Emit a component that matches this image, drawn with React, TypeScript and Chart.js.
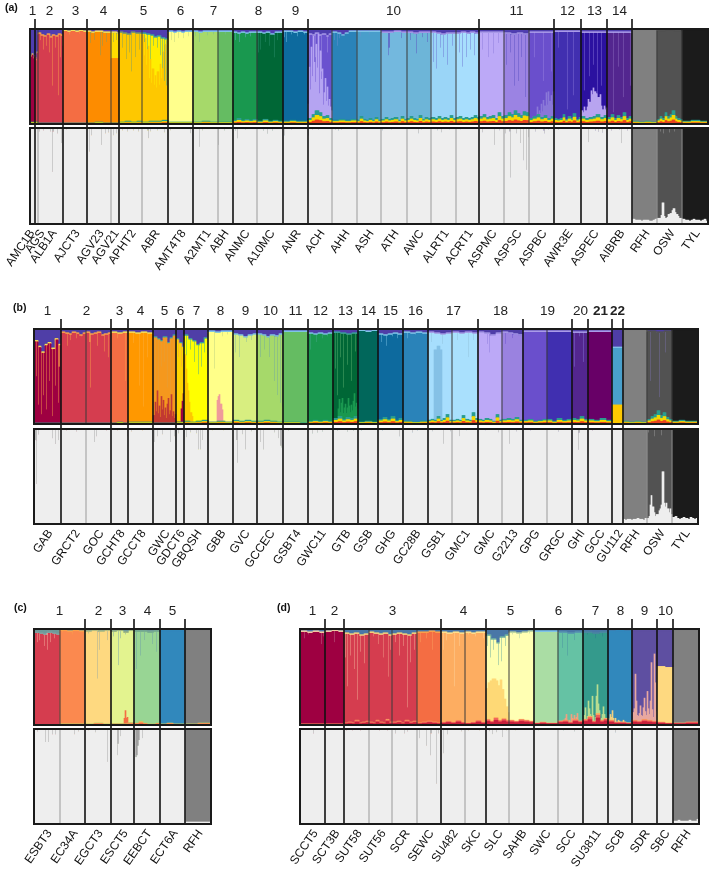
import React, { useEffect, useRef } from "react";
import { Chart, registerables } from "chart.js";
Chart.register(...registerables);

// ---------- shared colours ----------
const RFH = "#808080", OSW = "#525252", TYL = "#1c1c1c";
const WINE = "#9e0142", RED = "#d53e4f", ORG = "#f46d43", AMB = "#fd8d00", GOLD = "#fec800";
const O = "#f9a04a", Y = "#f3df5a", B = "#7fc4e6", T = "#3aa0a0", L = "#a99be8", G = "#7a9a6a", P = "#5a50c0";

// ---------- panel (a) ----------
const namesA = ["AMC1B","AGS","ALB1A","AJCT3","AGV23","AGV21","APHT2","ABR","AMT4T8","A2MT1","ABH","ANMC","A10MC","ANR","ACH","AHH","ASH","ATH","AWC","ALRT1","ACRT1","ASPMC","ASPSC","ASPBC","AWR3E","ASPEC","AIBRB","RFH","OSW","TYL"];
const countsA = [5,3,25,24,24,8,23,26,25,25,15,24,26,25,24,25,24,26,24,25,23,25,25,25,27,26,25,25,25,26];
const groupsA = [1,2,1,2,2,1,2,2,1,7,3,1,1,1];
const labelNudgeA = [-3,3,1,0,0,-1,0,0,0,0,-2,0,0,0,0,0,0,0,0,0,0,0,0,0,0,0,0,0,0,0];
const mainA = [WINE,RED,RED,ORG,AMB,"#ffdc00",GOLD,"#ffee00","#ffff8c","#a6d96a","#66bd63","#1a9850","#006837","#0e6a9e","#6b52cf","#2b83ba","#4a9fcb","#74b8de","#6db5d8","#9ad5f7","#a8defd","#bda9f7","#9c84e3","#6a50cc","#4230b0","#2c12a0","#54278f",RFH,OSW,TYL];
const underColorA = [WINE,"#c8a020",RED,ORG,AMB,AMB,GOLD,GOLD,"#ffff8c","#a6d96a","#66bd63","#1a9850","#006837","#0e6a9e","#b5a4f2","#2b83ba","#4a9fcb","#74b8de","#6db5d8","#9ad5f7","#a8defd","#bda9f7","#9c84e3","#8a78d8","#4230b0","#b8a4f0","#54278f",RFH,OSW,TYL];
const underA = [[0],[0],[0],[0],[0],[68],[0],[92,70,88,60,80,45,70,40,55,38,48,35,52,38,60,45,72,50,80,68,90],[0],[0],[0],[0],[0],[0],[15,60,30,75,40,88,55,30,70,45,82,20,65,35,50,12,25,40,15,30,10,20,12,8],[0],[0],[0],[0],[0],[0],[0],[0],[0,0,0,0,0,0,8,0,4,14,6,18,10,24,14,28,18,22,12,26],[0],[6,4,10,8,12,20,16,28,24,30,26,22,30,18,24,12,8,10,6,8],[0],[0],[0],[0]];
const capA = [[30,28,26,30,28],[30,32,24],[4,6,7,5,8,6,7,5,6],[1,2,1,2,1,2],[2,3,2,2,3,3],[3,3,4],[3,4,5,3,4,4],[4,5,6,8,7,9,10],[2,3,2,3,2,2],[2,3,2,2,2],[2,2,2],[3,4,3,4,3,3],[3,4,3,5,3,3],[2,2,3,2,3],[5,6,4,6,5,7,5],[3,4,6,4,2,2],[2,2,2,2],[3,3,2,3],[3,4,3,3],[3,4,5,4,4],[4,3,4,3,4],[3,3,3],[4,5,4,5],[3,3,3],[2,2],[3,3],[3,3],[0],[1,0,1],[0]];
const floorA = [[2],[2],[1,1,1],[1],[1,2,1],[1],[2,3,2,3],[2,3,3,4],[2,2],[2,3,2],[2,2],[4,6,4,5,4,5],[3,5,3,4,3],[3,4,3,3],[6,10,14,12,8,9,6],[4,5,4,5],[4,8,5,4,6,4,7,4],[5,7,5,6,7,4,8,5],[6,8,6,5,9,5,7,6],[7,6,8,6,7,6,9,6],[7,8,6,7,6,7,9,7],[8,10,7,8,9,6,12,8],[9,12,10,14,11,9,13,12],[6,8,10,7,9,6,8],[6,5,6,10,5,8,6,11,5,7],[8,6,7,8,10,7,9],[7,10,6,9,7,12,6,8],[3,2,3,2],[5,8,6,12,8,10,14,8,6,5],[3,4,3]];
const fringeA = [Y,Y,O,Y,Y,Y,G,T,B,B,B,B,B,B,L,B,B,L,L,L,L,L,L,L,L,L,L,RFH,OSW,TYL];
const streakColorA = [WINE,RED,O,O,G,G,G,T,"#b8d080","#78b89a","#78b89a","#6fa8c8","#2f8f6f",B,L,"#6a8fd0","#6a8fd0",P,P,"#6a70d0","#6a70d0","#8a78d8",P,"#9c84e3","#8a78d8","#8a78d8","#9070c0",RFH,OSW,TYL];
const streaksA = [
  [],[],
  [[2,12],[5,22],[8,18],[11,25],[14,60],[17,20],[20,70],[22,30],[24,18]],
  [[6,6],[16,5]],
  [[3,15],[7,12],[13,28],[15,18],[19,14]],
  [[2,14],[5,12]],
  [[3,20],[7,32],[10,25],[12,45],[16,30],[20,22]],
  [[2,14],[5,22],[8,32],[11,18],[15,20],[18,28],[20,42],[22,55],[24,60]],
  [[3,12],[6,14],[10,10],[15,10],[20,8]],
  [[2,8],[6,14],[14,7],[20,6]],
  [[1,5],[7,6]],
  [[2,12],[6,14],[12,9],[17,8]],
  [[1,25],[3,22],[8,14],[12,18],[17,30],[20,12]],
  [[1,9],[3,14],[8,6],[14,8],[21,6]],
  [[1,40],[7,30],[13,45],[19,25]],
  [[2,12],[5,18],[7,10]],
  [[3,8],[12,6]],
  [[7,28],[8,20],[20,10]],
  [[3,12],[9,26],[15,9],[20,14]],
  [[2,35],[5,42],[9,20],[12,30],[16,38],[21,18]],
  [[3,25],[6,40],[10,30],[14,22],[18,28]],
  [[3,22],[9,30],[14,26],[19,15]],
  [[2,38],[6,25],[10,60],[14,55],[17,30],[21,72]],
  [[5,30],[14,55],[22,45]],
  [[4,20],[13,85],[19,70]],
  [[3,65],[8,50],[12,38],[16,72],[20,60]],
  [[6,88],[11,40],[16,72],[23,60]],
  [],[[2,6]],[]
];
const greysA = [
  [],[],
  [[1,4],[5,3],[12,4],[14,46],[15,4],[19,6],[23,16]],
  [[3,2]],
  [[2,25],[4,8],[14,18],[18,6],[21,5]],
  [[2,8],[5,6]],
  [[3,3],[8,4],[14,3],[19,4]],
  [[5,3],[6,11],[8,4],[15,3],[22,5]],
  [[2,3],[22,6]],
  [[6,20],[9,3]],
  [[0,18],[6,3]],
  [[2,3],[4,11],[12,2]],
  [[6,3],[10,6],[15,3]],
  [[1,8],[8,2]],
  [[0,8],[4,2],[10,2]],
  [[3,2],[6,3],[9,2]],
  [],
  [[1,3],[10,2]],
  [[11,6],[14,2]],
  [[6,3],[10,5],[18,2]],
  [[4,2]],
  [[3,5],[15,18],[20,3]],
  [[1,6],[5,4],[6,52],[12,6],[16,16],[19,34],[22,44],[24,10]],
  [[6,4],[14,3],[15,6],[19,2]],
  [[4,2]],
  [[7,15],[14,3],[17,4],[21,5]],
  [[4,3],[12,2],[14,16],[20,3]],
  [],[[3,4],[6,6],[12,5],[17,4]],[]
];
const lowBaseA = [[100],[100],[100],[100],[100],[100],[100],[100],[100],[100],[100],[100],[100],[100],[100],[100],[100],[100],[100],[100],[100],[100],[100],[100],[100],[100],[100],[5,4,4,4,3,4,4,4,3,3,4,5],[6,6,9,22,8,6,7,10,11,14,16,12,10,8,6,6],[5,4,4,3,4,5,4,4,3,4,5,3]];

// ---------- panel (b) ----------
const namesB = ["GAB","GRCT2","GOC","GCHT8","GCCT8","GWC","GDCT6","GBQSH","GBB","GVC","GCCEC","GSBT4","GWC11","GTB","GSB","GHG","GC28B","GSB1","GMC1","GMC","G2213","GPG","GRGC","GHI","GCC","GU112","RFH","OSW","TYL"];
const countsB = [27,25,25,17,25,23,8,24,25,24,26,25,25,25,20,25,25,24,26,24,21,24,25,16,24,11,24,25,26];
const groupsB = [1,2,1,1,1,1,1,1,1,1,1,1,1,1,1,1,2,2,2,1,1,1];
const labelNudgeB = [0,1,0,0,0,0,0,1,0,0,0,0,0,0,0,0,0,0,0,0,0,0,0,0,0,0,0,0,0];
const mainB = [WINE,RED,RED,ORG,"#ff9800","#f5981e","#ffd500","#ffff00","#ffff8a","#d8ee80","#a6d96a","#66bd63","#1a9850","#006837","#02675c","#0e6a9e","#2b83ba","#a8defd","#a9e0fd","#bda9f7","#9a82e0","#6a50cc","#4030b0","#54278f","#690068","#4aa0cc",RFH,OSW,TYL];
const underColorB = [WINE,RED,RED,ORG,"#ff9800","#c23a32",WINE,GOLD,"#ef9a9a","#d8ee80","#a6d96a","#66bd63","#1a9850","#1a9850","#02675c","#0e6a9e","#2b83ba","#85c1e6","#a9e0fd","#bda9f7","#9a82e0","#6a50cc","#4030b0","#54278f","#690068",GOLD,RFH,OSW,TYL];
const underB = [[0],[0],[0],[0],[0],[8,22,12,34,10,18,6,28,14,24,8,16,5,20,26,9,13,30,7,12,5,9],[0,0,0,0,0,14,22,30],[70,55,40,32,20,10,6,0,0,0,0,0,0,0,0,0,0,0,0,0],[0,0,0,0,0,0,0,0,22,26,28,18,12,0,0,0,0,0,0,0,0,0,0],[0],[0],[0],[0],[0,0,0,0,8,18,4,14,22,6,12,16,4,10,20,12,6,14,8,18,24,10,14,8],[0],[0],[0],[0,0,0,0,74,74,74,74,74,74,0,0,0,0,0,0,0,0],[0],[0],[0],[0],[0],[0],[0],[20],[0],[0],[0]];
const capB = [[12,18,24,16,14,20,10,16],[3,4,5,3,4,6,4],[3,5,4,3,6,5,4],[3,4,3],[3,4,3,4],[8,10,12,8,14,9,6],[10,14,18],[6,10,12,16,14,9],[2,3,2,2],[5,6,8,6,5],[5,6,8,6,7,5],[2,2,2],[4,5,4,5,4],[3,4,5,4],[1,2,1],[5,6,5,4,5],[3,4,3,4],[3,4,5,4],[3,4,3,4],[3,4,6,4],[3,4,5,6],[2,2],[2,2],[3,3],[2,2],[19],[0],[2,3,2],[0]];
const floorB = [[1],[1],[1],[1,2,1],[2],[1],[2],[3,2,3,4],[2,3,2],[4,3,4,3],[3,4,3,2],[2,2,1],[3,4,3,4,3],[6,8,5,7,6,8],[2,3,2],[5,7,5,8,4,6],[3,2,3],[4,5,4,8,4,6,10,4],[4,5,4,9,5,4,12,6],[5,4,6,5,3,10,4],[5,6,5,7,4],[4,5,3,4,5],[5,3,6,4,5],[6,5,8,5],[5,4,6,4],[0],[3,2,3,2],[5,8,10,14,9,12,7,5],[3,4,3,3]];
const fringeB = [Y,O,O,Y,Y,T,T,T,B,B,B,B,B,T,B,B,B,L,L,L,L,L,L,L,L,"#7fbfe8",RFH,OSW,TYL];
const streakColorB = [O,O,O,O,"#fbb040","#e0a040",O,T,"#b8d080","#8ab8a0","#70a8a0","#66bd63","#4aa88a","#5fb070","#02675c",B,B,"#8fc0d8","#8fc0d8","#8a78d8","#6a50cc","#6a50cc","#4030b0","#8a78d8","#690068","#4aa0cc",RFH,"#7a70a8",TYL];
const streaksB = [
  [[2,50],[4,80],[7,90],[9,70],[12,85],[15,55],[18,92],[21,60],[24,78],[25,40]],
  [[6,18],[9,12],[15,10],[20,8]],
  [[3,14],[4,62],[11,18],[18,24],[22,30]],
  [[6,10],[14,55]],
  [[5,15],[11,60],[15,82],[19,30]],
  [[2,55],[5,72],[8,40],[11,35],[14,62],[17,80],[20,45]],
  [[2,30],[5,40]],
  [[2,28],[6,22],[10,35],[14,48],[17,40],[20,25]],
  [[6,42],[14,8],[19,6]],
  [[2,25],[6,30],[13,14],[18,12]],
  [[3,30],[7,22],[12,30],[17,55],[20,70],[23,78],[25,82]],
  [],
  [[2,22],[8,14],[14,10],[19,8]],
  [[2,42],[4,70],[7,30],[10,62],[14,38],[18,55],[22,24]],
  [],
  [[3,14],[8,18],[14,8],[19,10]],
  [[4,10],[12,6]],
  [[3,14],[14,16]],
  [[5,12],[16,30],[21,12]],
  [[9,16],[11,25]],
  [[3,16],[10,10]],
  [],[],
  [[2,40],[7,8],[11,35]],
  [],[],[],
  [[3,55],[12,72],[18,25]],
  []
];
const greysB = [
  [[1,12],[2,58],[4,6],[18,10],[21,16],[24,12]],
  [[5,2],[15,3]],
  [[8,14],[10,8],[20,2]],
  [[6,2],[16,8]],
  [[3,3],[14,2]],
  [[1,14],[4,8],[9,6],[17,14],[21,8]],
  [[2,5]],
  [[2,9],[6,4],[12,5],[14,22],[16,22],[18,12]],
  [[4,2],[15,2]],
  [[3,12],[4,36],[9,6],[12,22],[18,3]],
  [[3,14],[6,22],[17,4],[21,10],[23,18],[24,20]],
  [[5,2]],
  [[4,5],[9,4],[14,3]],
  [[4,2],[14,3],[20,2]],
  [[3,2]],
  [[4,2],[21,8]],
  [[9,4],[14,2]],
  [[4,3],[15,16],[22,3]],
  [[7,8],[14,2]],
  [[7,2],[20,4]],
  [[7,16],[14,3]],
  [[7,2]],
  [[11,3]],
  [[7,4],[6,22]],
  [[4,2]],
  [],
  [],[[1,4],[7,8],[14,7]],[]
];
const lowBaseB = [[100],[100],[100],[100],[100],[100],[100],[100],[100],[100],[100],[100],[100],[100],[100],[100],[100],[100],[100],[100],[100],[100],[100],[100],[100],[100],[5,4,5,5,4,5,5,6,5,5,4,6],[6,8,20,30,18,12,8,10,10,14,16,20,55,22,18,22,16,12,16,10],[7,8,6,5,6,7,6,5,7,6,5,6]];

// ---------- panel (c) ----------
const namesC = ["ESBT3","EC34A","EGCT3","ESCT5","EEBCT","ECT6A","RFH"];
const countsC = [26,25,26,23,26,25,26];
const groupsC = [2,1,1,1,1];
const labelNudgeC = [0,0,0,0,0,0,0];
const mainC = [RED,"#fb8a50","#fed980","#e3f38f","#99d594","#3288bd",RFH];
const underColorC = [RED,"#fb8a50","#fed980",ORG,"#99d594","#3288bd",RFH];
const underC = [[0],[0],[0],[0,0,0,0,0,0,0,0,0,0,0,6,14,6,0,0,0,0,0,0],[0],[0],[0]];
const capC = [[3,4,5,3,4,5],[1,2,1,2],[2,1,2,1],[2,1,3,1],[2,2,3,2],[1],[0]];
const floorC = [[0],[1],[1,2,1],[1,1,2],[2,4,2,1,1,2],[1,2,1,1],[1,2]];
const fringeC = ["#7fa0a0",O,"#b8c080","#a0b880","#7ab090","#3288bd",RFH];
const streakColorC = ["#f5b7a0",O,"#98a8a0","#6f9fb0","#6f9fa8","#3288bd",RFH];
const streaksC = [
  [[3,14],[5,12],[10,18],[13,22],[16,14],[20,10]],
  [[2,4],[12,6]],
  [[3,5],[12,52],[14,22],[22,12]],
  [[2,8],[7,38],[9,10],[14,6]],
  [[2,42],[6,28],[10,12],[18,16],[22,24]],
  [],[]
];
const greysC = [
  [[3,3],[11,14],[14,14],[18,6],[21,6]],
  [[14,6],[18,3]],
  [[3,2],[10,4],[22,35]],
  [[6,28],[7,16],[9,8]],
  [[1,30],[2,30],[3,28],[4,18],[5,12],[8,10]],
  [],[]
];
const lowBaseC = [[100],[100],[100],[100],[100],[100],[2,2,2,2,2,2]];

// ---------- panel (d) ----------
const namesD = ["SCCT5","SCT3B","SUT58","SUT56","SCR","SEWC","SU482","SKC","SLC","SAHB","SWC","SCC","SU3811","SCB","SDR","SBC","RFH"];
const countsD = [25,19,25,23,25,24,24,21,23,25,24,25,25,24,25,16,26];
const groupsD = [1,1,4,2,2,2,1,1,1,1];
const labelNudgeD = [0,0,0,0,0,0,0,0,0,0,0,0,0,0,0,0,0];
const mainD = [WINE,WINE,RED,RED,RED,ORG,"#fdae61","#fdae61","#ffffb0","#ffffb3","#abdda4","#66c2a5","#359a8c","#3288bd","#5e4fa2","#5e4fa2",RFH];
const underColorD = [WINE,WINE,RED,RED,RED,ORG,"#fdae61","#fdae61","#fed976","#ffffb3","#abdda4","#f0a080","#b8dc90","#f0d080","#e8a8a0","#fed980",RFH];
const underD = [[0],[0],[0],[0],[0],[0],[0],[0],[32,38,42,44,40,38,36,42,30,20,14,8],[0],[0],[0,0,0,0,0,0,0,2,6,0,0,2,0,8,4,0,4,0,2,6,0,0,0,0,0],[0,4,12,0,3,16,8,2,0,26,6,0,4,18,30,10,3,0,2,6,14,4,0,0,0],[2,0,6,3,10,2,0,4,0,0,2,1,0,0,0,2,0,0,0,0,0,0,0,0],[0,8,12,48,20,6,5,8,16,6,3,12,22,8,4,30,12,6,20,60,12,4,70,40,10],[58],[0]];
const capD = [[2,3,2,3],[2,1,2],[4,5,4,6,5],[3,4,5,4,6],[5,4,5,6,4],[3,3,2,3],[3,4,3,4],[3,4,3,3],[6,10,14,8,6],[3,4,3,2],[2,2,2],[3,4,3],[3,4,3],[2,1,2],[1],[1],[0]];
const floorD = [[1],[1],[2,3,2,5,2,3,4],[3,2,5,3,2,6,3],[3,4,2,5,3,4],[2,3,4,3,2],[3,4,3,5,3],[2,3,5,3],[6,4,8,5,7,5],[5,4,6,5,4],[2,3,2,2],[4,5,3,6,4],[6,9,4,12,5,7],[5,3,3,2],[5,4,6,5,4],[3,2],[2,3]];
const fringeD = ["#f3c8a0","#f3c8a0","#f3d07a","#f3d07a","#f3d07a",O,"#fee08b","#fee08b","#6fb0a0","#c0d8a0",B,"#5a9ab0","#4a88a0","#3288bd","#5e4fa2","#5e4fa2",RFH];
const streakColorD = ["#c07090","#c07090","#f3b49a","#f3a08a","#f3b49a","#f9a060","#fdd49e","#fdd49e","#60a8a0","#a0c8a8","#abdda4","#4a90a0","#2a7a90","#3288bd","#5e4fa2","#5e4fa2",RFH];
const streaksD = [
  [[4,10],[8,6],[21,16],[23,8]],
  [[9,14]],
  [[1,30],[3,60],[6,28],[10,42],[13,74],[16,24],[20,36]],
  [[4,8],[9,16],[14,30],[19,50],[21,22]],
  [[3,14],[7,28],[11,18],[15,82],[18,35],[22,22]],
  [[3,14],[9,10],[15,22]],
  [[2,22],[5,12],[13,60],[18,18]],
  [[3,6],[10,8],[18,10]],
  [[1,18],[4,30],[7,22],[12,38],[15,34],[19,18]],
  [[3,6],[10,10],[20,5]],
  [[6,5],[14,4]],
  [[4,20],[9,28],[16,12]],
  [[4,6],[12,10],[19,8]],
  [[5,3]],
  [],
  [],[]
];
const greysD = [
  [[13,5]],
  [],
  [[2,2],[8,2],[16,2]],
  [[10,2],[18,2]],
  [[3,5],[12,5],[15,3]],
  [[2,10],[9,18],[13,28],[14,5],[19,58],[21,5]],
  [[2,26],[6,6],[20,3]],
  [[3,2],[14,2]],
  [[3,3],[6,6],[10,4],[16,9],[20,2]],
  [[6,2]],
  [[4,2]],
  [[5,2],[16,3]],
  [[6,2]],
  [[7,4]],
  [],[],[]
];
const lowBaseD = [[100],[100],[100],[100],[100],[100],[100],[100],[100],[100],[100],[100],[100],[100],[100],[100],[3,3,4,3,3,3,3,4,3,3,3,5]];

// ---------- layout ----------
const FONT = "'Liberation Sans', Arial, sans-serif";
const PANELS = [
  { names: namesA, counts: countsA, groups: groupsA, nudge: labelNudgeA, main: mainA, underColor: underColorA, under: underA, cap: capA, floor: floorA, fringe: fringeA, streakColor: streakColorA, streaks: streaksA, greys: greysA, lowBase: lowBaseA,
    left: 30, top: 29, split: 126, bottom: 124, low: 128, lowEnd: 224, tick: 19, capColor: "#4f3fb0", floorColors: ["#e8431f", "#f5d800", "#2a9d8f"], floorShare: [0.3, 0.35, 0.35], boldFrom: 99 },
  { names: namesB, counts: countsB, groups: groupsB, nudge: labelNudgeB, main: mainB, underColor: underColorB, under: underB, cap: capB, floor: floorB, fringe: fringeB, streakColor: streakColorB, streaks: streaksB, greys: greysB, lowBase: lowBaseB,
    left: 34, top: 329, split: 426, bottom: 424, low: 429, lowEnd: 524, tick: 319, capColor: "#4f3fa8", floorColors: ["#e8431f", "#f5d800", "#2a9d8f"], floorShare: [0.3, 0.35, 0.35], boldFrom: 21 },
  { names: namesC, counts: countsC, groups: groupsC, nudge: labelNudgeC, main: mainC, underColor: underColorC, under: underC, cap: capC, floor: floorC, fringe: fringeC, streakColor: streakColorC, streaks: streaksC, greys: greysC, lowBase: lowBaseC,
    left: 34, top: 629, split: 727, bottom: 725, low: 729, lowEnd: 824, tick: 619, capColor: "#6f9a9a", floorColors: ["#f46d43", "#fdae61", "#a6d96a"], floorShare: [0.5, 0.3, 0.2], boldFrom: 99 },
  { names: namesD, counts: countsD, groups: groupsD, nudge: labelNudgeD, main: mainD, underColor: underColorD, under: underD, cap: capD, floor: floorD, fringe: fringeD, streakColor: streakColorD, streaks: streaksD, greys: greysD, lowBase: lowBaseD,
    left: 300, top: 629, split: 727, bottom: 725, low: 729, lowEnd: 824, tick: 619, capColor: "#4a78a8", floorColors: ["#c8203c", "#f0605a", "#fdae61"], floorShare: [0.6, 0.25, 0.15], boldFrom: 99 },
];
const PANEL_X = [[0, 709], [0, 709], [0, 270], [270, 709]];
const LABEL_SHIFT = 2;
const LOW_AXIS = 56;
const SOFTEN = "blur(0.45px)";
const TAGS = [["(a)", 5, 1], ["(b)", 13, 301], ["(c)", 14, 601], ["(d)", 277, 601]];

// ---------- helpers ----------
const pick = (samples: number[], j: number, w: number) => samples[Math.min(samples.length - 1, Math.floor((j * samples.length) / w))];

function expand(p: any) {
  const u: any = { floor: [[], [], []], under: [], main: [], streak: [], fringe: [], cap: [], uc: [], mc: [], sc: [], fc: [] };
  const l: any = { base: [], body: [], spike: [], bc: [] };
  p.names.forEach((_: string, i: number) => {
    const w = p.counts[i];
    const s = new Map<number, number>(p.streaks[i]);
    const g = new Map<number, number>(p.greys[i]);
    for (let j = 0; j < w; j++) {
      const cap = pick(p.cap[i], j, w);
      const fl = pick(p.floor[i], j, w);
      const fr = 1.5;
      const st = Math.max(0, (s.get(j) || 0) - cap - fr);
      const un = Math.min(pick(p.under[i], j, w), 100 - fl - cap - fr - st);
      p.floorShare.forEach((k: number, n: number) => u.floor[n].push(fl * k));
      u.under.push(un); u.streak.push(st); u.fringe.push(fr); u.cap.push(cap);
      u.main.push(Math.max(0, 100 - fl - un - st - fr - cap));
      u.uc.push(p.underColor[i]); u.mc.push(p.main[i]); u.sc.push(p.streakColor[i]); u.fc.push(p.fringe[i]);
      const d = g.get(j) || 0;
      const b = Math.min(pick(p.lowBase[i], j, w), 100 - d);
      l.base.push(b); l.spike.push(d); l.body.push(100 - b - d); l.bc.push(p.main[i]);
    }
  });
  return { u, l };
}

function bounds(p: any) {
  const popEnds: number[] = [];
  let c = 0;
  p.counts.forEach((n: number) => { c += n; popEnds.push(c); });
  const groupEnds: number[] = [];
  let k = 0;
  p.groups.forEach((n: number) => { k += n; groupEnds.push(popEnds[k - 1]); });
  return { popEnds, groupEnds, total: c };
}

const ds = (data: number[], color: any) => ({ data, backgroundColor: color, borderWidth: 0, barPercentage: 1, categoryPercentage: 1, stack: "s" });

function overlay(b: any, yFrom: (c: any) => number, yTo: (c: any) => number, thin: string) {
  return {
    id: "marks",
    afterDatasetsDraw(chart: any) {
      const { ctx, chartArea: a, scales } = chart;
      const at = (i: number) => (scales.x.getPixelForValue(i - 1) + scales.x.getPixelForValue(i)) / 2;
      ctx.save();
      ctx.strokeStyle = thin; ctx.lineWidth = 1;
      b.popEnds.slice(0, -1).forEach((e: number) => {
        if (b.groupEnds.includes(e)) return;
        ctx.beginPath(); ctx.moveTo(at(e), a.top); ctx.lineTo(at(e), a.bottom); ctx.stroke();
      });
      ctx.strokeStyle = "#111"; ctx.lineWidth = 1.6;
      b.groupEnds.forEach((e: number) => {
        ctx.beginPath(); ctx.moveTo(at(e), yFrom(a)); ctx.lineTo(at(e), yTo(a)); ctx.stroke();
      });
      ctx.strokeStyle = "#1a1a1a"; ctx.lineWidth = 2;
      ctx.strokeRect(a.left, a.top, a.right - a.left, a.bottom - a.top);
      ctx.restore();
    },
  };
}

function Panel({ p, x0, x1 }: { p: any; x0: number; x1: number }) {
  const upRef = useRef<HTMLCanvasElement>(null);
  const lowRef = useRef<HTMLCanvasElement>(null);
  useEffect(() => {
    const { u, l } = expand(p);
    const b = bounds(p);
    const W = x1 - x0;
    const pad = { left: p.left - x0, right: W - (p.left - x0) - b.total };
    const topLabels: string[] = new Array(b.total).fill("");
    let start = 0;
    b.groupEnds.forEach((e: number, i: number) => { topLabels[Math.floor((start + e) / 2)] = String(i + 1); start = e; });
    const lowLabels: string[] = new Array(b.total).fill("");
    let s0 = 0;
    b.popEnds.forEach((e: number, i: number) => {
      const col = Math.max(0, Math.min(b.total - 2, Math.round((s0 + e) / 2 + LABEL_SHIFT + p.nudge[i])));
      lowLabels[col] = p.names[i];
      s0 = e;
    });
    const tidy = (h: number) => (s: any) => { s.height = h; s.paddingLeft = 0; s.paddingRight = 0; };
    const up = new Chart(upRef.current!, {
      type: "bar",
      data: {
        labels: topLabels,
        datasets: [
          ds(u.floor[0], p.floorColors[0]), ds(u.floor[1], p.floorColors[1]), ds(u.floor[2], p.floorColors[2]),
          ds(u.under, u.uc), ds(u.main, u.mc), ds(u.streak, u.sc), ds(u.fringe, u.fc), ds(u.cap, p.capColor),
        ],
      },
      options: {
        responsive: false, animation: false,
        layout: { padding: { left: pad.left, right: pad.right, top: 0, bottom: p.split - p.bottom } },
        plugins: { legend: { display: false }, tooltip: { enabled: false } },
        scales: {
          x: { stacked: true, display: false, offset: true },
          xTop: {
            type: "category", position: "top", offset: true, labels: topLabels,
            grid: { display: false, drawTicks: false }, border: { display: false },
            afterFit: tidy(p.top),
            ticks: {
              autoSkip: false, minRotation: 0, maxRotation: 0, padding: 10, color: "#222",
              font: (c: any) => ({ family: FONT, size: 13.5, weight: Number(c.tick?.label) >= p.boldFrom ? "bold" : "normal" }),
              callback: (_: any, i: number) => topLabels[i],
            },
          },
          y: { stacked: true, display: false, min: 0, max: 100 },
        },
      } as any,
      plugins: [overlay(b, () => p.tick, () => p.split, "#3a3a3a")],
    } as any);
    const low = new Chart(lowRef.current!, {
      type: "bar",
      data: {
        labels: lowLabels,
        datasets: [ds(l.base, "#eeeeee"), ds(l.body, l.bc), ds(l.spike, "#a0a0a0")],
      },
      options: {
        responsive: false, animation: false,
        layout: { padding: { left: pad.left, right: pad.right, top: p.low - p.split, bottom: 0 } },
        plugins: { legend: { display: false }, tooltip: { enabled: false } },
        scales: {
          x: {
            stacked: true, offset: true, position: "bottom",
            grid: { display: false, drawTicks: false }, border: { display: false },
            afterFit: tidy(LOW_AXIS),
            ticks: {
              autoSkip: false, minRotation: 55, maxRotation: 55, padding: 3, color: "#111",
              font: { family: FONT, size: 12 },
              callback: (_: any, i: number) => lowLabels[i],
            },
          },
          y: { stacked: true, display: false, min: 0, max: 100 },
        },
      } as any,
      plugins: [overlay(b, () => 0, (a: any) => a.bottom, "#9a9a9a")],
    } as any);
    return () => { up.destroy(); low.destroy(); };
  }, [p, x0, x1]);
  const W = x1 - x0;
  const lowH = p.lowEnd - p.split + LOW_AXIS;
  return (
    <>
      <canvas ref={upRef} width={W} height={p.split} style={{ position: "absolute", left: x0, top: 0, display: "block", width: W, height: p.split, filter: SOFTEN }} />
      <canvas ref={lowRef} width={W} height={lowH} style={{ position: "absolute", left: x0, top: p.split, display: "block", width: W, height: lowH, filter: SOFTEN }} />
    </>
  );
}

export default function App() {
  return (
    <div style={{ position: "absolute", left: 0, top: 0, width: 709, height: 874, background: "#fff", overflow: "hidden", fontFamily: FONT }}>
      {PANELS.map((p, i) => <Panel key={i} p={p} x0={PANEL_X[i][0]} x1={PANEL_X[i][1]} />)}
      {TAGS.map(([t, x, y]) => (
        <span key={t as string} style={{ position: "absolute", left: x as number, top: y as number, fontSize: 10.5, fontWeight: 700, color: "#111" }}>{t}</span>
      ))}
    </div>
  );
}
